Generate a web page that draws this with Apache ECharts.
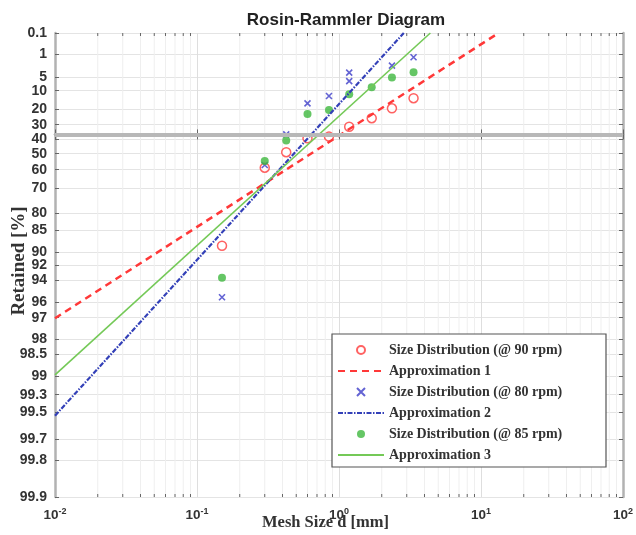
<!DOCTYPE html>
<html>
<head>
<meta charset="utf-8">
<script src="https://cdn.jsdelivr.net/npm/echarts@6/dist/echarts.min.js"></script>
<style>html,body{margin:0;padding:0;background:#fff}#c{width:636px;height:535px}</style>
</head>
<body>
<div id="c"></div>
<script>
// ---- data ----
const sizes90 = [0.15, 0.3, 0.425, 0.6, 0.85, 1.18, 1.7, 2.36, 3.35];
const ret90   = [88.7, 58.8, 49.0, 39.5, 38.3, 31.4, 25.6, 19.3, 13.6];
const sizes80 = [0.15, 0.3, 0.425, 0.6, 0.85, 1.18, 1.18, 2.36, 3.35];
const ret80   = [95.6, 57.2, 36.7, 16.4, 12.5, 6.3, 3.9, 2.45, 1.29];
const sizes85 = [0.15, 0.3, 0.425, 0.6, 0.85, 1.18, 1.7, 2.36, 3.35];
const ret85   = [93.7, 54.7, 41.1, 22.8, 20.3, 11.7, 8.6, 5.2, 3.8];
const approx1X = [0.01, 13.3];  const approx1R = [97.03, 0.1];
const approx2X = [0.01, 2.86];  const approx2R = [99.53, 0.1];
const approx3X = [0.01, 4.4];   const approx3R = [98.98, 0.1];
const refLevel = 36.79;
const yTickLabels = ['0.1','1','5','10','20','30','40','50','60','70','80','85','90','92','94','96','97','98','98.5','99','99.3','99.5','99.7','99.8','99.9'];
const xMinorTicks = [0.02,0.03,0.04,0.05,0.06,0.07,0.08,0.09,0.2,0.3,0.4,0.5,0.6,0.7,0.8,0.9,2,3,4,5,6,7,8,9,20,30,40,50,60,70,80,90];
const names = ['Size Distribution (@ 90 rpm)','Approximation 1','Size Distribution (@ 80 rpm)','Approximation 2','Size Distribution (@ 85 rpm)','Approximation 3'];

// Rosin-Rammler transform
const rr = R => Math.log(Math.log(100 / R));
const yVals = yTickLabels.map(s => rr(parseFloat(s)));
const yMin = rr(99.9), yMax = rr(0.1);
const pts = (xs, rs) => xs.map((x, i) => [x, rr(rs[i])]);
const yLabel = v => {
  let bi = 0, bd = Infinity;
  yVals.forEach((t, i) => { const d = Math.abs(t - v); if (d < bd) { bd = d; bi = i; } });
  return yTickLabels[bi];
};
const sup = v => { const e = Math.round(Math.log10(v)); return '{b|10}{s|' + e + '}'; };

const chart = echarts.init(document.getElementById('c'), null, {renderer: 'canvas'});
const frame = {show: true, lineStyle: {color: '#b2b2b2', width: 2.5}};
const hideSym = {color: 'rgba(0,0,0,0)', opacity: 0, borderWidth: 0};
const option = {
  animation: false,
  backgroundColor: '#fff',
  title: {text: 'Rosin-Rammler Diagram', left: 341, textAlign: 'center', top: 7,
    textStyle: {fontFamily: 'Liberation Sans', fontWeight: 'bold', fontSize: 17, color: '#222'}},
  grid: {left: 55, right: 11, top: 33, bottom: 38},
  graphic: [
    {type: 'text', left: 262, top: 514, z: 10,
      style: {text: 'Mesh Size d [mm]', font: 'bold 16.5px "Liberation Serif"', fill: '#333'}},
    {type: 'text', x: 19, y: 261, rotation: Math.PI / 2, z: 10,
      style: {text: 'Retained [%]', font: 'bold 19px "Liberation Serif"', fill: '#333', align: 'center', verticalAlign: 'middle'}},
    {type: 'rect', shape: {x: 332, y: 334, width: 274, height: 133}, z: 5,
      style: {fill: '#fff', stroke: '#555', lineWidth: 1.2}}
  ],
  legend: {
    data: [
      {name: names[0]},
      {name: names[1], itemStyle: hideSym},
      {name: names[2]},
      {name: names[3], itemStyle: hideSym},
      {name: names[4]},
      {name: names[5], itemStyle: hideSym}
    ],
    orient: 'vertical', left: 332, top: 338, itemWidth: 46, itemHeight: 8, itemGap: 7, z: 6,
    textStyle: {fontFamily: 'Liberation Serif', fontWeight: 'bold', fontSize: 14, lineHeight: 14, color: '#333'},
    selectedMode: false
  },
  xAxis: [
    {type: 'log', logBase: 10, min: 0.01, max: 100, position: 'bottom',
      axisLine: frame,
      axisTick: {show: true, inside: true, length: 5, lineStyle: {color: '#666'}},
      splitLine: {show: true, lineStyle: {color: '#dedede', width: 1}},
      axisLabel: {formatter: sup, margin: 10, rich: {
        b: {fontFamily: 'Liberation Sans', fontWeight: 'bold', fontSize: 13.5, color: '#333', lineHeight: 17},
        s: {fontFamily: 'Liberation Sans', fontWeight: 'bold', fontSize: 9, color: '#333', verticalAlign: 'top', lineHeight: 17}}}},
    {type: 'log', logBase: 10, min: 0.01, max: 100, position: 'top',
      axisLine: frame,
      axisTick: {show: true, inside: true, length: 5, lineStyle: {color: '#666'}},
      splitLine: {show: false}, axisLabel: {show: false}}
  ],
  yAxis: [
    {type: 'value', min: yMin, max: yMax, position: 'left',
      axisLine: frame,
      axisTick: {show: true, inside: true, length: 4, customValues: yVals, lineStyle: {color: '#666'}},
      splitLine: {show: true, lineStyle: {color: '#e4e4e4', width: 1}},
      axisLabel: {customValues: yVals, formatter: yLabel, margin: 8, hideOverlap: false,
        fontFamily: 'Liberation Sans', fontWeight: 'bold', fontSize: 14, color: '#333'}},
    {type: 'value', min: yMin, max: yMax, position: 'right',
      axisLine: frame,
      axisTick: {show: true, inside: true, length: 4, customValues: yVals, lineStyle: {color: '#666'}},
      splitLine: {show: false}, axisLabel: {show: false}}
  ],
  series: [
    {type: 'custom', name: 'minor', silent: true, z: 1, clip: false,
      data: xMinorTicks.map(v => [v, yMin]),
      renderItem: (params, api) => {
        const x = api.value(0);
        const t = api.coord([x, yMax]); const b = api.coord([x, yMin]);
        return {type: 'group', children: [
          {type: 'line', shape: {x1: t[0], y1: t[1], x2: b[0], y2: b[1]}, style: {stroke: '#efefef', lineWidth: 1}},
          {type: 'line', shape: {x1: t[0], y1: t[1], x2: t[0], y2: t[1] + 3}, style: {stroke: '#666', lineWidth: 1}},
          {type: 'line', shape: {x1: b[0], y1: b[1], x2: b[0], y2: b[1] - 3}, style: {stroke: '#666', lineWidth: 1}}
        ]};
      }},
    {type: 'line', name: 'ref', data: [], z: 2, silent: true,
      markLine: {silent: true, symbol: 'none', label: {show: false},
        lineStyle: {color: '#b8b8b8', width: 4, type: 'solid'},
        data: [{yAxis: rr(refLevel)}]}},
    {type: 'scatter', name: names[0], data: pts(sizes90, ret90), symbol: 'circle', symbolSize: 9, z: 3,
      itemStyle: {color: '#fff', borderColor: '#ff3b3b', borderWidth: 1.5}},
    {type: 'scatter', name: names[2], data: pts(sizes80, ret80), symbol: 'path://M0,0L10,10M10,0L0,10', symbolSize: 6, z: 3,
      itemStyle: {color: 'none', borderColor: '#3c3cc8', borderWidth: 1.6}},
    {type: 'scatter', name: names[4], data: pts(sizes85, ret85), symbol: 'circle', symbolSize: 8, z: 3,
      itemStyle: {color: '#3fb83f'}},
    {type: 'line', name: names[1], data: pts(approx1X, approx1R), showSymbol: false, symbol: 'none', z: 4,
      lineStyle: {color: '#ff3838', width: 2.5, type: [7, 5]}, itemStyle: {color: '#ff3838'}},
    {type: 'line', name: names[3], data: pts(approx2X, approx2R), showSymbol: false, symbol: 'none', z: 4,
      lineStyle: {color: '#3340b8', width: 2.2, type: [5, 1.5, 1.5, 1.5]}, itemStyle: {color: '#3340b8'}},
    {type: 'line', name: names[5], data: pts(approx3X, approx3R), showSymbol: false, symbol: 'none', z: 4,
      lineStyle: {color: '#74c957', width: 1.6}, itemStyle: {color: '#74c957'}}
  ]
};
chart.setOption(option);
</script>
</body>
</html>
